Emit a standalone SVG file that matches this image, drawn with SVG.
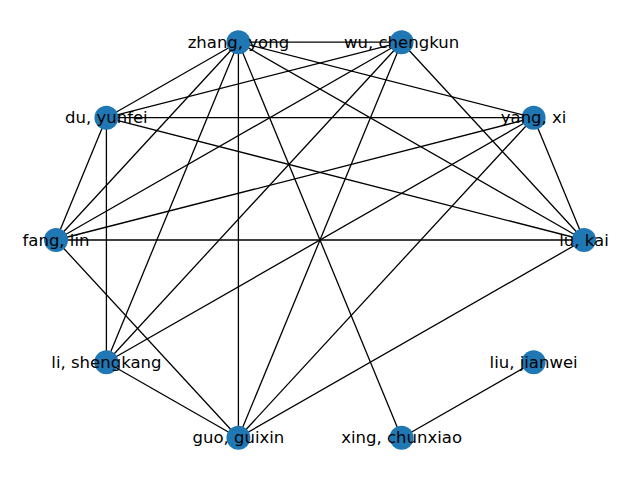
<svg xmlns="http://www.w3.org/2000/svg" width="640" height="480" viewBox="0 0 640 480">
<style>
.e{stroke:#000;stroke-width:1.3;fill:none}
.n{fill:#1f77b4}
.t{font-family:"DejaVu Sans",sans-serif;font-size:16.5px;fill:#000;text-anchor:middle;dominant-baseline:central}
</style>
<rect width="640" height="480" fill="#fff"/>
<g id="edges">
<line class="e" x1="238.4" y1="42.2" x2="401.6" y2="42.2"/>
<line class="e" x1="238.4" y1="42.2" x2="106.4" y2="117.7"/>
<line class="e" x1="238.4" y1="42.2" x2="56" y2="240"/>
<line class="e" x1="238.4" y1="42.2" x2="106.4" y2="362.3"/>
<line class="e" x1="238.4" y1="42.2" x2="238.4" y2="437.8"/>
<line class="e" x1="238.4" y1="42.2" x2="401.6" y2="437.8"/>
<line class="e" x1="238.4" y1="42.2" x2="533.6" y2="117.7"/>
<line class="e" x1="238.4" y1="42.2" x2="584" y2="240"/>
<line class="e" x1="401.6" y1="42.2" x2="106.4" y2="117.7"/>
<line class="e" x1="401.6" y1="42.2" x2="56" y2="240"/>
<line class="e" x1="401.6" y1="42.2" x2="106.4" y2="362.3"/>
<line class="e" x1="401.6" y1="42.2" x2="238.4" y2="437.8"/>
<line class="e" x1="401.6" y1="42.2" x2="584" y2="240"/>
<line class="e" x1="106.4" y1="117.7" x2="533.6" y2="117.7"/>
<line class="e" x1="106.4" y1="117.7" x2="584" y2="240"/>
<line class="e" x1="106.4" y1="117.7" x2="56" y2="240"/>
<line class="e" x1="106.4" y1="117.7" x2="106.4" y2="362.3"/>
<line class="e" x1="56" y1="240" x2="584" y2="240"/>
<line class="e" x1="56" y1="240" x2="533.6" y2="117.7"/>
<line class="e" x1="56" y1="240" x2="238.4" y2="437.8"/>
<line class="e" x1="106.4" y1="362.3" x2="533.6" y2="117.7"/>
<line class="e" x1="106.4" y1="362.3" x2="238.4" y2="437.8"/>
<line class="e" x1="238.4" y1="437.8" x2="533.6" y2="117.7"/>
<line class="e" x1="238.4" y1="437.8" x2="584" y2="240"/>
<line class="e" x1="533.6" y1="117.7" x2="584" y2="240"/>
<line class="e" x1="533.6" y1="362.3" x2="401.6" y2="437.8"/>
</g>
<g id="n-lu"><circle class="n" cx="584" cy="240" r="12"/><text class="t" x="584" y="240">lu, kai</text></g>
<g id="n-yang"><circle class="n" cx="533.6" cy="117.7" r="12"/><text class="t" x="533.6" y="117.7">yang, xi</text></g>
<g id="n-wu"><circle class="n" cx="401.6" cy="42.2" r="12"/><text class="t" x="401.6" y="42.2">wu, chengkun</text></g>
<g id="n-zhang"><circle class="n" cx="238.4" cy="42.2" r="12"/><text class="t" x="238.4" y="42.2">zhang, yong</text></g>
<g id="n-du"><circle class="n" cx="106.4" cy="117.7" r="12"/><text class="t" x="106.4" y="117.7">du, yunfei</text></g>
<g id="n-fang"><circle class="n" cx="56" cy="240" r="12"/><text class="t" x="56" y="240">fang, lin</text></g>
<g id="n-li"><circle class="n" cx="106.4" cy="362.3" r="12"/><text class="t" x="106.4" y="362.3">li, shengkang</text></g>
<g id="n-guo"><circle class="n" cx="238.4" cy="437.8" r="12"/><text class="t" x="238.4" y="437.8">guo, guixin</text></g>
<g id="n-xing"><circle class="n" cx="401.6" cy="437.8" r="12"/><text class="t" x="401.6" y="437.8">xing, chunxiao</text></g>
<g id="n-liu"><circle class="n" cx="533.6" cy="362.3" r="12"/><text class="t" x="533.6" y="362.3">liu, jianwei</text></g>
</svg>
